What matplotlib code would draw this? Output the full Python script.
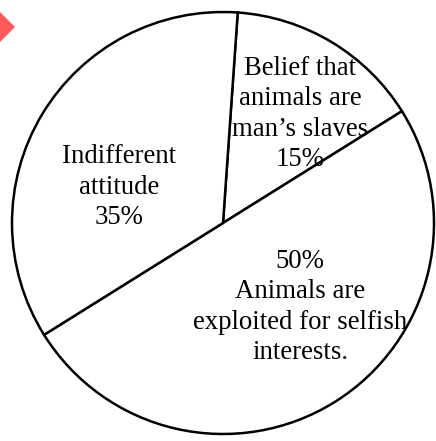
import matplotlib
matplotlib.use("Agg")
import matplotlib.pyplot as plt

values = [15, 50, 35]
labels = ["Belief that\nanimals are\nman\u2019s slaves\n15%",
          "50%\nAnimals are\nexploited for selfish\ninterests.",
          "Indifferent\nattitude\n35%"]
label_pos = [(300, 441 - 114), (300, 441 - 307), (119, 441 - 187)]

fig = plt.figure(figsize=(4.36, 4.41), dpi=100)
ax = fig.add_axes([0, 0, 1, 1])

ax.pie(values, startangle=86, counterclock=False, center=(223, 218), radius=211,
       colors=["white"] * 3,
       wedgeprops=dict(edgecolor="black", linewidth=1.8), frame=True)
ax.set_xlim(0, 436)
ax.set_ylim(0, 441)
ax.axis("off")

for txt, (x, y) in zip(labels, label_pos):
    ax.text(x, y, txt, ha="center", va="center", fontsize=19.3,
            family="Liberation Serif", linespacing=1.28, color="black")

ax.plot([0], [441 - 27], marker="D", ms=15, mew=0, color="#ff5a5a", clip_on=False)

fig.savefig("out.png", dpi=100)
